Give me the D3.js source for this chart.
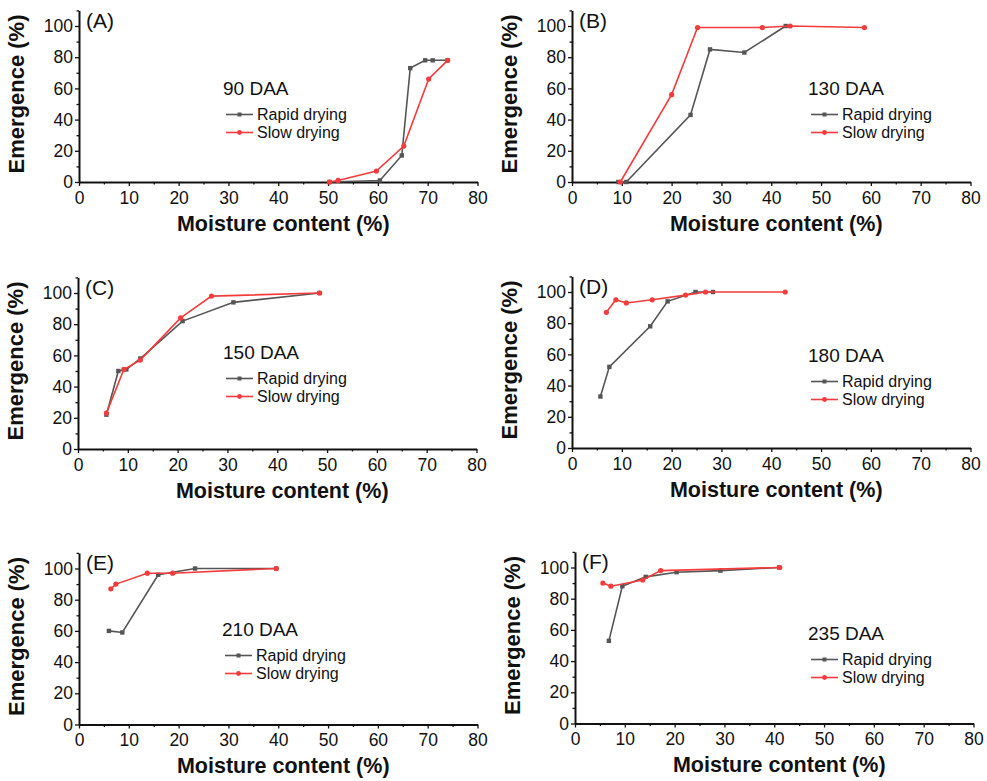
<!DOCTYPE html>
<html>
<head>
<meta charset="utf-8">
<script src="https://cdn.jsdelivr.net/npm/d3@7"></script>
<style>
  body { margin: 0; background: #fff; }
  svg text { font-family: "Liberation Sans", Arial, sans-serif; fill: #111; }
</style>
</head>
<body>
<svg id="chart" width="987" height="781"></svg>
<script>
// panel labels and stage
var panelLetters = ["(A)", "(B)", "(C)", "(D)", "(E)", "(F)"];
var stageLabels = ["90 DAA", "130 DAA", "150 DAA", "180 DAA", "210 DAA", "235 DAA"];
var seriesNames = ["Rapid drying", "Slow drying"];

// tick values
var xTicks = [0, 10, 20, 30, 40, 50, 60, 70, 80];
var yTicks = [0, 20, 40, 60, 80, 100];

// [moisture %, emergence %]
var rapidA = [[50.3, 0], [60.4, 1], [64.8, 17], [66.5, 73], [69.5, 78], [71, 78], [74, 78]];
var slowA  = [[50.3, 0], [52, 1], [59.7, 7], [65.2, 23], [70.2, 66], [74, 78]];

var rapidB = [[9.3, 0], [10.9, 0], [23.8, 43], [27.7, 85], [34.6, 83], [42.9, 100]];
var slowB  = [[9.7, 0], [20, 56], [25.2, 99], [38.2, 99], [43.8, 100], [58.7, 99]];

var rapidC = [[5.7, 22], [8.1, 50], [9.7, 51], [12.5, 58], [21, 82], [31.2, 94], [48.5, 100]];
var slowC  = [[5.7, 23], [9.2, 51], [12.5, 57], [20.6, 84], [26.8, 98], [48.5, 100]];

var rapidD = [[5.7, 33], [7.5, 52], [15.7, 78], [19.2, 94], [24.8, 100], [28.3, 100]];
var slowD  = [[6.9, 87], [8.8, 95], [10.9, 93], [16.1, 95], [22.8, 98], [26.8, 100], [42.8, 100]];

var rapidE = [[6, 60], [8.7, 59], [15.9, 96], [23.3, 100], [39.6, 100]];
var slowE  = [[6.4, 87], [7.4, 90], [13.7, 97], [18.8, 97], [39.6, 100]];

var rapidF = [[6.8, 53], [9.5, 88], [14.2, 94], [20.4, 97], [29.2, 98], [41, 100]];
var slowF  = [[5.6, 90], [7.2, 88], [13.6, 92], [17.2, 98], [41.1, 100]];

var rapidAll = [rapidA, rapidB, rapidC, rapidD, rapidE, rapidF];
var slowAll = [slowA, slowB, slowC, slowD, slowE, slowF];

// layout: plot origin per panel and where the legend block sits
var plotLeft = [79, 572, 78, 572, 79, 575];
var plotBottom = [182, 182, 449, 448, 724.5, 723.5];
var plotW = 398.5;
var plotH = 171.6;   // 0..110
var legendPos = [[223, 95], [808, 95], [223, 359], [808, 362], [222, 636], [808, 640]];

var colors = ["#555555", "#f53b3b"];
var fontFam = "'Liberation Sans', Arial, sans-serif";

var svg = d3.select("#chart");

for (var i = 0; i < 6; i++)
{
	var x0 = plotLeft[i];
	var y0 = plotBottom[i];

	var x = d3.scaleLinear().domain([0, 80]).range([x0, x0 + plotW]);
	var y = d3.scaleLinear().domain([0, 110]).range([y0, y0 - plotH]);

	var g = svg.append("g");

	// x axis
	var xAxis = g.append("g")
		.attr("transform", "translate(0," + y0 + ")")
		.call(d3.axisBottom(x).tickValues(xTicks).tickSize(4).tickSizeOuter(0));
	g.append("g")
		.attr("transform", "translate(0," + y0 + ")")
		.call(d3.axisBottom(x).tickValues(d3.range(5, 80, 10)).tickSize(2.5).tickFormat(""))
		.select(".domain").remove();

	// y axis
	var yAxis = g.append("g")
		.attr("transform", "translate(" + x0 + ",0)")
		.call(d3.axisLeft(y).tickValues(yTicks).tickSize(4).tickSizeOuter(0));
	g.append("g")
		.attr("transform", "translate(" + x0 + ",0)")
		.call(d3.axisLeft(y).tickValues([10, 30, 50, 70, 90, 110]).tickSize(2.5).tickFormat(""))
		.select(".domain").remove();

	g.selectAll(".domain").attr("stroke", "#111").attr("stroke-width", 2);
	g.selectAll(".tick line").attr("stroke", "#111").attr("stroke-width", 1.3);

	xAxis.selectAll(".tick text")
		.attr("font-size", 17.5).attr("dy", "0.83em").attr("fill", "#111")
		.style("font-family", fontFam);
	yAxis.selectAll(".tick text")
		.attr("font-size", 17.5).attr("x", -6).attr("fill", "#111")
		.style("font-family", fontFam);

	// axis titles
	g.append("text")
		.attr("x", x0 + plotW / 2 + 5).attr("y", y0 + 48.5)
		.attr("text-anchor", "middle")
		.attr("font-size", 21.5).attr("font-weight", "bold")
		.text("Moisture content (%)");

	g.append("text")
		.attr("transform", "translate(" + (x0 - 55) + "," + (y0 - 88) + ") rotate(-90)")
		.attr("text-anchor", "middle")
		.attr("font-size", 22).attr("font-weight", "bold")
		.text("Emergence (%)");

	// panel letter
	g.append("text")
		.attr("x", x0 + 7).attr("y", y0 - 154.5)
		.attr("font-size", 21)
		.text(panelLetters[i]);

	// series
	var line = d3.line().x(function(d) { return x(d[0]); }).y(function(d) { return y(d[1]); });
	var sets = [rapidAll[i], slowAll[i]];

	for (var s = 0; s < 2; s++)
	{
		g.append("path")
			.datum(sets[s])
			.attr("d", line)
			.attr("fill", "none")
			.attr("stroke", colors[s])
			.attr("stroke-width", 1.6);

		if (s == 0)
		{
			g.selectAll(".mk" + s)
				.data(sets[s]).enter()
				.append("rect")
				.attr("x", function(d) { return x(d[0]) - 2.2; })
				.attr("y", function(d) { return y(d[1]) - 2.2; })
				.attr("width", 4.4).attr("height", 4.4)
				.attr("fill", colors[s]);
		}
		else
		{
			g.selectAll(".mk" + s)
				.data(sets[s]).enter()
				.append("circle")
				.attr("cx", function(d) { return x(d[0]); })
				.attr("cy", function(d) { return y(d[1]); })
				.attr("r", 2.6)
				.attr("fill", colors[s]);
		}
	}

	// legend
	var lx = legendPos[i][0];
	var ly = legendPos[i][1];

	g.append("text")
		.attr("x", lx).attr("y", ly)
		.attr("font-size", 19)
		.text(stageLabels[i]);

	for (var s = 0; s < 2; s++)
	{
		var rowY = ly + 19.5 + s * 18;
		g.append("line")
			.attr("x1", lx + 3).attr("x2", lx + 30)
			.attr("y1", rowY).attr("y2", rowY)
			.attr("stroke", colors[s]).attr("stroke-width", 1.6);
		if (s == 0)
		{
			g.append("rect")
				.attr("x", lx + 16.5 - 2).attr("y", rowY - 2)
				.attr("width", 4).attr("height", 4)
				.attr("fill", colors[s]);
		}
		else
		{
			g.append("circle")
				.attr("cx", lx + 16.5).attr("cy", rowY).attr("r", 2.4)
				.attr("fill", colors[s]);
		}
		g.append("text")
			.attr("x", lx + 34).attr("y", rowY + 5)
			.attr("font-size", 16)
			.text(seriesNames[s]);
	}
}
</script>
</body>
</html>
